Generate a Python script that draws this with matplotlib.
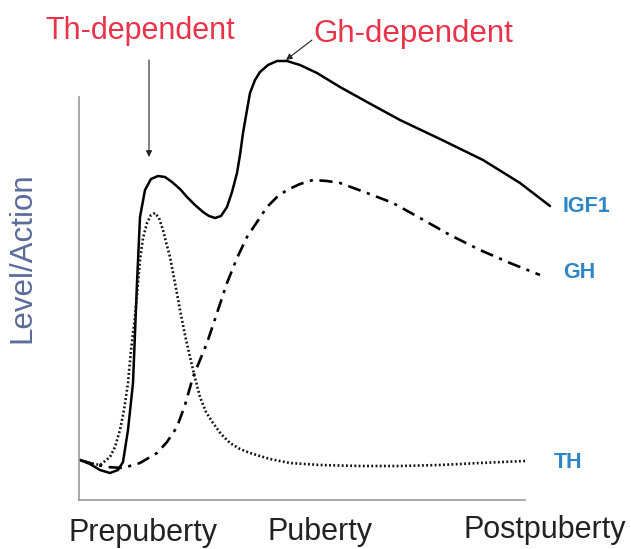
import matplotlib
matplotlib.use("Agg")
import matplotlib.pyplot as plt

# ---- data (x: arbitrary time units, y: level/action) ----
igf1_x = [1, 11, 21, 31, 39, 44, 49, 54, 58, 61, 66, 72, 79, 86, 93, 101, 108, 116, 124, 130,
          136, 142, 148, 153, 158, 161, 164, 168, 171, 176, 181, 189, 198, 208, 221, 238, 261, 288, 321, 361,
          404, 441, 471]
igf1_y = [40, 36, 30, 27, 30, 38, 70, 117, 217, 283, 310, 321, 324, 323, 318, 311, 303, 295, 288, 284,
          282, 284, 293, 308, 327, 345, 367, 390, 407, 420, 428, 435, 439, 439, 435, 427, 413, 398, 380, 361,
          340, 317, 294]

gh_x = [1, 14, 28, 44, 61, 78, 88, 98, 106, 114, 121, 128, 138, 148, 158, 168, 178, 188, 198, 208,
        221, 234, 248, 261, 288, 314, 341, 371, 401, 431, 461]
gh_y = [40, 36, 33, 32, 37, 47, 58, 73, 95, 123, 140, 157, 187, 217, 242, 263, 278, 293, 303, 310,
        316, 320, 319, 317, 307, 297, 282, 265, 250, 237, 225]

th_x = [1, 11, 21, 31, 36, 41, 45, 49, 52, 56, 61, 64, 68, 72, 76, 80, 84, 87, 91, 96,
        101, 106, 111, 116, 121, 127, 134, 142, 151, 161, 171, 191, 211, 241, 281, 321, 361, 401, 446]
th_y = [40, 37, 35, 43, 53, 70, 90, 117, 150, 183, 240, 262, 277, 285, 287, 282, 270, 258, 243, 217,
        190, 165, 143, 122, 103, 88, 77, 66, 57, 51, 47, 41, 37, 35, 34, 34, 35, 37, 39]

series_labels = ["IGF1", "GH", "TH"]
phase_labels = ["Prepuberty", "Puberty", "Postpuberty"]
annot_labels = ["Th-dependent", "Gh-dependent"]

W, H = 631, 549
plt.rcParams['font.family'] = ['Liberation Sans', 'DejaVu Sans']
fig = plt.figure(figsize=(W / 100, H / 100), dpi=100)
fig.patch.set_facecolor('white')

def fx(px):
    return px / W

def fy(py):
    return 1 - py / H

ax = fig.add_axes([fx(79), fy(500), (600 - 79) / W, (500 - 40) / H])
ax.set_xlim(0, 521)
ax.set_ylim(0, 460)
ax.patch.set_alpha(0)

ax.plot(igf1_x, igf1_y, color='black', lw=1.8, solid_joinstyle='round', solid_capstyle='round')
ax.plot(gh_x, gh_y, color='black', lw=1.9, linestyle=(0, (5, 2.5, 1.2, 2.5)), dash_capstyle='butt')
ax.plot(th_x, th_y, color='#111111', lw=1.9, linestyle=(0, (0.7, 0.9)))

for s in ['top', 'right']:
    ax.spines[s].set_visible(False)
for s in ['left', 'bottom']:
    ax.spines[s].set_color('#9a9a9a')
    ax.spines[s].set_linewidth(1.2)
ax.spines['left'].set_bounds(0, 403)
ax.spines['bottom'].set_bounds(0, 446)
ax.set_xticks([])
ax.set_yticks([])

# series labels
blue = '#2e86c6'
lab_pos = [(563, 207), (563, 272), (554, 462)]
for lab, (px, py) in zip(series_labels, lab_pos):
    fig.text(fx(px), fy(py), lab, color=blue, fontsize=15.5, fontweight='bold',
             ha='left', va='center')

# phase labels
phase_pos = [(143, 533), (320, 532), (545, 530)]
for lab, (px, py) in zip(phase_labels, phase_pos):
    fig.text(fx(px), fy(py), lab, color='#222222', fontsize=22, ha='center', va='center')

# y label
fig.text(fx(22), fy(258), "Level/Action", color='#5b6b9b', fontsize=22.5, rotation=90,
         ha='center', va='center')

# annotations
red = '#e8334a'
fig.text(fx(140), fy(31), annot_labels[0], color=red, fontsize=22, ha='center', va='center')
fig.text(fx(413), fy(34), annot_labels[1], color=red, fontsize=22.5, ha='center', va='center')

ax.annotate("", xy=(149 - 79, 500 - 157), xytext=(149 - 79, 500 - 60),
            arrowprops=dict(arrowstyle='-|>', color='#222222', lw=0.8,
                            mutation_scale=9, shrinkA=0, shrinkB=0),
            annotation_clip=False)
ax.annotate("", xy=(286 - 79, 500 - 60), xytext=(312 - 79, 500 - 40),
            arrowprops=dict(arrowstyle='-|>', color='#222222', lw=0.8,
                            mutation_scale=9, shrinkA=0, shrinkB=0),
            annotation_clip=False)

fig.savefig("out.png", dpi=100, facecolor='white')
